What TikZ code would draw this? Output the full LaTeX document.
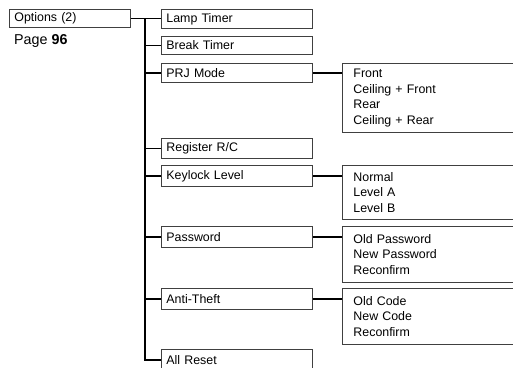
\documentclass[tikz,border=0pt]{standalone}
\usepackage{fontspec}
\setmainfont{Liberation Sans}
\begin{document}
\begin{tikzpicture}[x=1bp,y=-1bp,
  every node/.style={font=\fontsize{12.4bp}{15.7bp}\selectfont},
  menubox/.style={draw=black!75, line width=0.9bp, anchor=north west, inner xsep=5bp, inner ysep=0bp,
    text width=141bp, align=left, minimum height=19bp},
  subbox/.style={draw=black!75, line width=0.9bp, anchor=north west, inner xsep=11bp, inner ysep=0bp,
    text width=200bp, align=left},
  link/.style={draw=black, line width=1.2bp}]
\useasboundingbox (0,0) rectangle (513,367);
\clip (0,0) rectangle (513,367);
\node[menubox, text width=111bp, minimum height=18bp] (opt) at (9,9) {Options (2)};
\node[anchor=base west, inner sep=0pt, font=\fontsize{14.3bp}{16bp}\selectfont] (page) at (14,44) {Page \textbf{96}};
\node[menubox] (lamp) at (161,9) {Lamp Timer};
\node[menubox, minimum height=18bp] (brk) at (161,36) {Break Timer};
\node[menubox] (prj) at (161,63) {PRJ Mode};
\node[menubox, minimum height=20bp] (reg) at (161,138) {Register R/C};
\node[menubox, minimum height=21bp] (key) at (161,165) {Keylock Level};
\node[menubox, minimum height=21bp] (pwd) at (161,226) {Password};
\node[menubox, minimum height=21bp] (anti) at (161,288) {Anti-Theft};
\node[menubox, minimum height=21bp] (reset) at (161,349) {All Reset};
\node[subbox, minimum height=69bp] (prjsub) at (342,63) {Front\\Ceiling + Front\\Rear\\Ceiling + Rear};
\node[subbox, minimum height=54bp] (keysub) at (342,165) {Normal\\Level A\\Level B};
\node[subbox, minimum height=56bp] (pwdsub) at (342,226) {Old Password\\New Password\\Reconfirm};
\node[subbox, minimum height=56bp] (antisub) at (342,288) {Old Code\\New Code\\Reconfirm};
\coordinate (trtop) at (145,18.5);
\coordinate (trbot) at (145,360);
\draw[link] (opt.east) -- (opt.east -| lamp.west);
\draw[link] (trtop) -- (trbot) -- (trbot -| reset.west);
\foreach \n in {brk,prj,reg,key,pwd,anti}
  \draw[link] (\n.west -| trtop) -- (\n.west);
\draw[link] (prj.east) -- (prj.east -| prjsub.west);
\draw[link] (key.east) -- (key.east -| keysub.west);
\draw[link] (pwd.east) -- (pwd.east -| pwdsub.west);
\draw[link] (anti.east) -- (anti.east -| antisub.west);
\end{tikzpicture}
\end{document}
